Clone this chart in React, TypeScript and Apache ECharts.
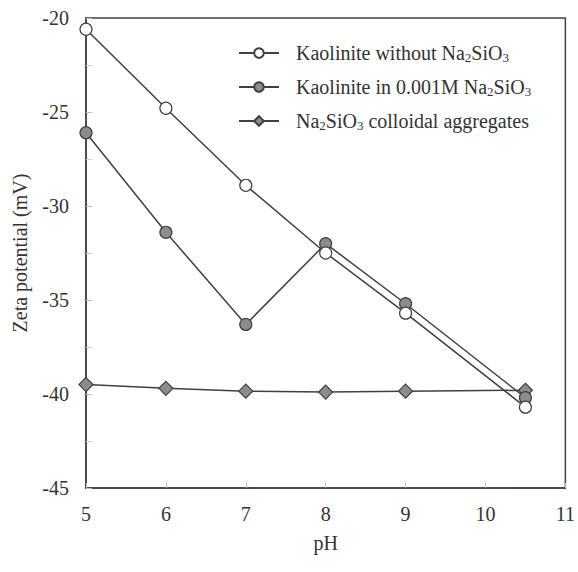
import React, { useEffect, useRef } from "react";
import * as echarts from "echarts";

const pH = [5, 6, 7, 8, 9, 10.5];
const kaoliniteWithout = [-20.6, -24.8, -28.9, -32.5, -35.7, -40.7];
const kaoliniteIn = [-26.1, -31.4, -36.3, -32.0, -35.2, -40.2];
const colloidal = [-39.5, -39.7, -39.85, -39.9, -39.85, -39.8];
const seriesNames = [
  "Kaolinite without Na2SiO3",
  "Kaolinite in 0.001M Na2SiO3",
  "Na2SiO3 colloidal aggregates",
];
const xTitle = "pH";
const yTitle = "Zeta potential (mV)";

const FONT = "Liberation Serif, Times New Roman, serif";
const INK = "#404040";
const TXT = "#333333";

function pairs(ys: number[]) {
  return pH.map((x, i) => [x, ys[i]]);
}

export default function App() {
  const ref = useRef<HTMLDivElement>(null);
  useEffect(() => {
    if (!ref.current) return;
    const chart = echarts.init(ref.current, undefined, { renderer: "svg" });
    const lineStyle = { color: INK, width: 1.5 };
    chart.setOption({
      animation: false,
      backgroundColor: "#ffffff",
      textStyle: { fontFamily: FONT },
      grid: {
        left: 86,
        right: 12,
        top: 18,
        bottom: 84,
        show: true,
        borderColor: INK,
        borderWidth: 1.5,
      },
      legend: {
        orient: "vertical",
        left: 233,
        top: 38,
        itemWidth: 40,
        itemHeight: 12,
        itemGap: 13,
        data: seriesNames,
        formatter: (name: string) =>
          name.replace(/Na2SiO3/g, "Na{sub|2}SiO{sub|3}"),
        textStyle: {
          fontFamily: FONT,
          fontSize: 20,
          color: TXT,
          padding: [0, 0, 0, 12],
          rich: {
            sub: {
              fontFamily: FONT,
              fontSize: 13,
              color: TXT,
              verticalAlign: "bottom",
              padding: [9, 0, 0, 0],
            },
          },
        },
      },
      xAxis: {
        type: "value",
        min: 5,
        max: 11,
        interval: 1,
        name: xTitle,
        nameLocation: "middle",
        nameGap: 45,
        nameTextStyle: { fontFamily: FONT, fontSize: 20, color: TXT },
        axisLine: { show: true, lineStyle: { color: INK, width: 1.5 } },
        axisTick: { show: true, inside: true, length: 5, lineStyle: { color: "#bbb" } },
        axisLabel: { fontFamily: FONT, fontSize: 20, color: TXT, margin: 16 },
        splitLine: { show: false },
      },
      yAxis: {
        type: "value",
        min: -45,
        max: -20,
        interval: 5,
        name: yTitle,
        nameLocation: "middle",
        nameGap: 56,
        nameTextStyle: { fontFamily: FONT, fontSize: 20, color: TXT },
        axisLine: { show: true, lineStyle: { color: INK, width: 1.5 } },
        axisTick: { show: true, inside: true, length: 6, lineStyle: { color: "#bbb" } },
        minorTick: { show: true, splitNumber: 2, length: 6, lineStyle: { color: "#ccc" } },
        axisLabel: { fontFamily: FONT, fontSize: 20, color: TXT, margin: 17 },
        splitLine: { show: false },
      },
      series: [
        {
          name: seriesNames[2],
          type: "line",
          data: pairs(colloidal),
          symbol: "diamond",
          symbolSize: 14,
          lineStyle,
          itemStyle: { color: "#8c8c8c", borderColor: INK, borderWidth: 1.2 },
          z: 2,
        },
        {
          name: seriesNames[1],
          type: "line",
          data: pairs(kaoliniteIn),
          symbol: "circle",
          symbolSize: 12,
          lineStyle,
          itemStyle: { color: "#8c8c8c", borderColor: INK, borderWidth: 1.2 },
          z: 3,
        },
        {
          name: seriesNames[0],
          type: "line",
          data: pairs(kaoliniteWithout),
          symbol: "circle",
          symbolSize: 12,
          lineStyle,
          itemStyle: { color: "#ffffff", borderColor: INK, borderWidth: 1.2 },
          z: 4,
        },
      ],
    });
    return () => chart.dispose();
  }, []);
  return <div ref={ref} style={{ width: 578, height: 572, position: "absolute", left: 0, top: 0 }} />;
}
